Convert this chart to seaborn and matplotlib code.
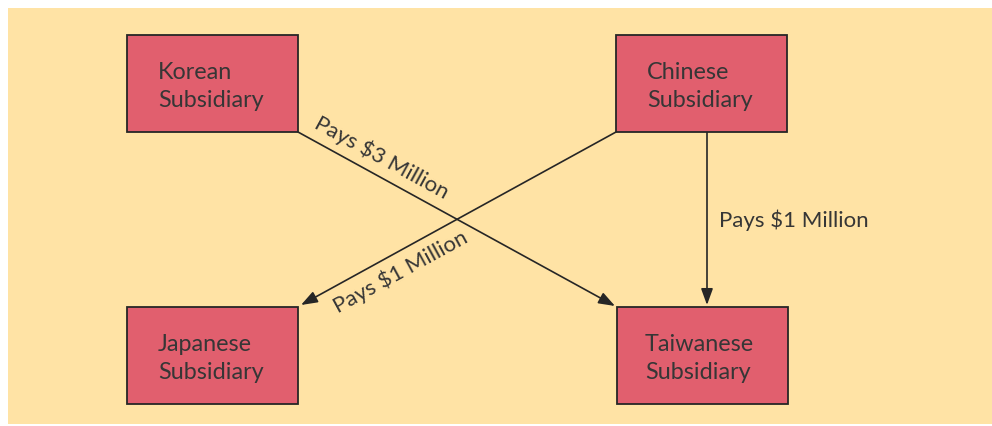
import matplotlib
matplotlib.use("Agg")
import matplotlib.pyplot as plt
from matplotlib.patches import Rectangle
import seaborn as sns

# Subsidiaries shown in the diagram (two-line box captions)
subsidiaries = ["Korean", "Chinese", "Japanese", "Taiwanese"]
box_captions = [s + "\nSubsidiary" for s in subsidiaries]

# Payments between subsidiaries: (payer, receiver, label)
payers = ["Korean", "Chinese", "Chinese"]
receivers = ["Taiwanese", "Japanese", "Taiwanese"]
amounts = [3, 1, 1]
pay_labels = ["Pays ${} Million".format(a) for a in amounts]

# Layout (pixel-like units on a 992x426 canvas)
box_left = {"Korean": 127, "Chinese": 616, "Japanese": 127, "Taiwanese": 617}
box_top = {"Korean": 35, "Chinese": 35, "Japanese": 307, "Taiwanese": 307}
box_w, box_h = 171, 97
text_x = {"Korean": 158, "Chinese": 647, "Japanese": 158, "Taiwanese": 645}

sns.set_theme(style="white")
plt.rcParams['font.family'] = ['Lato', 'DejaVu Sans']

bg = "#FFE3A5"
box_col = "#E15F6E"
ink = "#262626"
txt = "#363636"

fig = plt.figure(figsize=(9.92, 4.26), dpi=100)
ax = fig.add_axes([0, 0, 1, 1])
ax.set_xlim(0, 992)
ax.set_ylim(426, 0)
ax.axis("off")

# cream panel
ax.add_patch(Rectangle((8, 8), 990, 416, facecolor=bg, edgecolor="none", zorder=0))

for name, cap in zip(subsidiaries, box_captions):
    x0, y0 = box_left[name], box_top[name]
    ax.add_patch(Rectangle((x0, y0), box_w, box_h, facecolor=box_col,
                           edgecolor=ink, lw=1.3, zorder=2))
    ax.text(text_x[name], y0 + box_h / 2 + 3, cap, ha="left", va="center",
            fontsize=16.8, color=txt, linespacing=1.36, zorder=3)

arrow_kw = dict(arrowstyle="-|>,head_length=0.55,head_width=0.2", color=ink,
                lw=1.2, mutation_scale=18, shrinkA=0, shrinkB=0)

# diagonal arrows (corner to corner) and the vertical one
starts = [(box_left["Korean"] + box_w, box_top["Korean"] + box_h),
          (box_left["Chinese"], box_top["Chinese"] + box_h),
          (707, box_top["Chinese"] + box_h)]
ends = [(box_left["Taiwanese"] - 2, box_top["Taiwanese"] - 1),
        (box_left["Japanese"] + box_w + 3, box_top["Japanese"] - 2),
        (707, box_top["Taiwanese"] - 2)]

for (sx, sy), (ex, ey) in zip(starts, ends):
    ax.annotate("", xy=(ex, ey), xytext=(sx, sy), arrowprops=arrow_kw, zorder=1)

label_pos = [(382, 157), (400, 272), (719, 220)]
label_rot = [-28.7, 28.7, 0]
label_ha = ["center", "center", "left"]
for lab, (lx, ly), rot, ha in zip(pay_labels, label_pos, label_rot, label_ha):
    ax.text(lx, ly, lab, rotation=rot, rotation_mode="anchor", ha=ha,
            va="center", fontsize=16, color=txt, zorder=3)

fig.savefig("out.png", dpi=100, facecolor="white")
